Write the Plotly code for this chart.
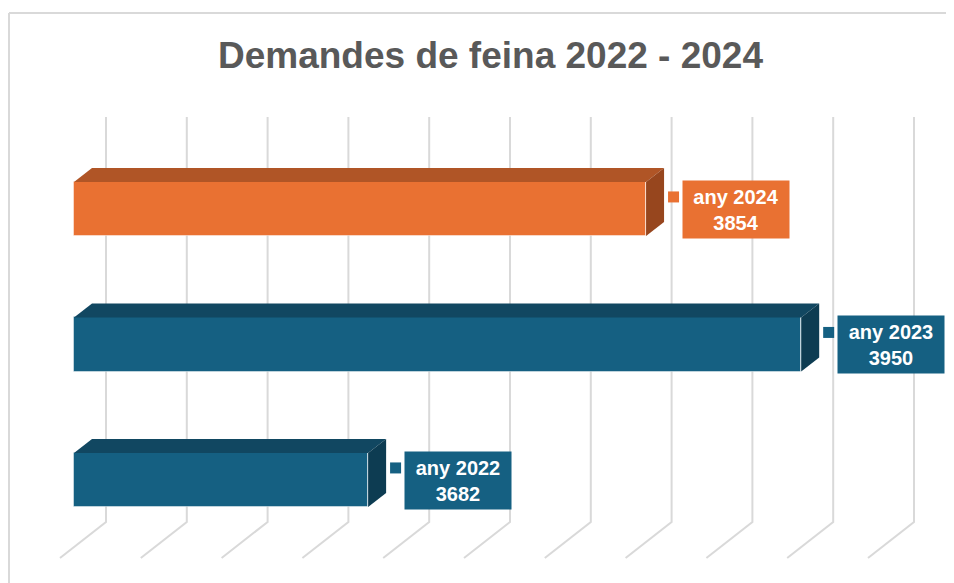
import plotly.graph_objects as go

# dades
anys = ["any 2022", "any 2023", "any 2024"]
demandes = [3682, 3950, 3854]
colors_front = ["#156082", "#156082", "#E97132"]
colors_top = ["#114761", "#114761", "#B05526"]
colors_side = ["#0D3C52", "#0D3C52", "#97461E"]
grid_ticks = [3500, 3550, 3600, 3650, 3700, 3750, 3800, 3850, 3900, 3950, 4000]
axis_min = 3500

OFF = 8  # page body margin
W, H = 954 - OFF, 583 - OFF
ml, mr, mt, mb = 40 - OFF, 4, 100 - OFF, 20
px_x = 80.8 / 50  # px per unit
px_y = 135.5      # px per category
x0 = axis_min - (74 - 40) / px_x
x1 = x0 + (W - ml - mr) / px_x
y0 = -(563 - 480) / px_y
y1 = (480 - 100) / px_y

bar_w = 0.4
dep_x = 18 / px_x
dep_y = 14 / px_y
back_off = 32 / px_x
floor_off = -14 / px_x
grid_top = (480 - 117) / px_y
floor_back = (480 - 522) / px_y
floor_front = (480 - 558) / px_y

fig = go.Figure()

# front faces
fig.add_trace(go.Bar(
    y=list(range(len(anys))), x=[v - axis_min for v in demandes], base=axis_min,
    orientation="h", width=bar_w, marker_color=colors_front,
    marker_line=dict(color="rgba(255,255,255,0.45)", width=1),
    hoverinfo="skip", showlegend=False))

# top and side faces
for i, v in enumerate(demandes):
    yt = i + bar_w / 2
    yb = i - bar_w / 2
    fig.add_trace(go.Scatter(
        x=[axis_min, axis_min + dep_x, v + dep_x, v, axis_min],
        y=[yt, yt + dep_y, yt + dep_y, yt, yt],
        fill="toself", fillcolor=colors_top[i], mode="lines", line_width=0,
        hoverinfo="skip", showlegend=False))
    fig.add_trace(go.Scatter(
        x=[v, v + dep_x, v + dep_x, v, v],
        y=[yt, yt + dep_y, yb + dep_y, yb, yt],
        fill="toself", fillcolor=colors_side[i], mode="lines", line_width=0,
        hoverinfo="skip", showlegend=False))
    # legend key square
    fig.add_trace(go.Scatter(
        x=[v + 17.0], y=[i + 0.089], mode="markers",
        marker=dict(symbol="square", size=11, color=colors_front[i]),
        hoverinfo="skip", showlegend=False))
    fig.add_annotation(
        x=v + 22.3, y=i, xref="x", yref="y", xanchor="left", yanchor="middle",
        text=f"<b>{anys[i]}<br>{v}</b>", showarrow=False, align="center",
        font=dict(family="Liberation Sans, Arial", size=20, color="white"),
        bgcolor=colors_front[i], width=100, height=51, borderpad=3)

# 3D gridlines (back wall + floor)
for t in grid_ticks:
    xb = t + back_off
    xf = t + floor_off
    fig.add_shape(type="path", xref="x", yref="y", layer="below",
                  path=f"M {xb},{grid_top} L {xb},{floor_back} L {xf},{floor_front}",
                  line=dict(color="#D9D9D9", width=2))

# chart border
bx = (9 - 40) / (W - ml - mr)
by = (563 - 13) / (H - mt - mb)
fig.add_shape(type="line", xref="paper", yref="paper", x0=bx, x1=1.2, y0=by, y1=by,
              line=dict(color="#D9D9D9", width=2))
fig.add_shape(type="line", xref="paper", yref="paper", x0=bx, x1=bx, y0=by, y1=-0.2,
              line=dict(color="#D9D9D9", width=2))

fig.update_layout(
    width=W, height=H,
    margin=dict(l=ml, r=mr, t=mt, b=mb),
    paper_bgcolor="white", plot_bgcolor="white",
    title=dict(text="<b>Demandes de feina 2022 - 2024</b>", xref="container", yref="container",
               x=(490.5 - OFF) / W, y=1 - (55 - OFF) / H, xanchor="center", yanchor="middle",
               font=dict(family="Liberation Sans, Arial", size=37, color="#595959")),
    xaxis=dict(range=[x0, x1], visible=False, fixedrange=True),
    yaxis=dict(range=[y0, y1], visible=False, fixedrange=True),
    bargap=0,
)

fig.write_html("out.html")
